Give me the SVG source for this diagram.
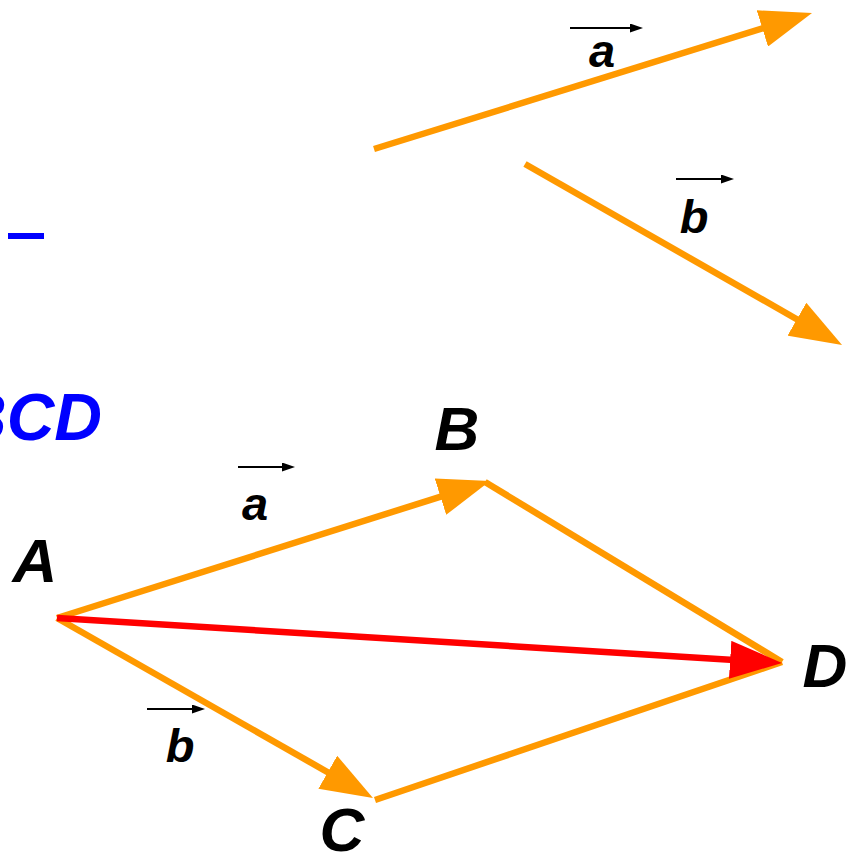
<svg xmlns="http://www.w3.org/2000/svg" width="852" height="855" viewBox="0 0 852 855">
<style>
.vec{stroke:#FF9900;stroke-width:6.5;fill:none}
.red{stroke:#FF0000;stroke-width:6.5;fill:none}
.small{stroke:#000;stroke-width:2;fill:none}
.lbl{font-family:"Liberation Sans",Arial,sans-serif;font-weight:bold;font-style:italic;fill:#000;text-anchor:middle}
.lc{font-size:47px}
.uc{font-size:62px}
.blue{font-family:"Liberation Sans",Arial,sans-serif;font-weight:bold;font-style:italic;fill:#0000FF;font-size:66px;text-anchor:end}
</style>
<defs>
<marker id="ho" markerUnits="userSpaceOnUse" markerWidth="54" markerHeight="38" refX="12" refY="19" orient="auto"><path d="M0,0 L52,19 L0,38 Z" fill="#FF9900"/></marker>
<marker id="hr" markerUnits="userSpaceOnUse" markerWidth="54" markerHeight="38" refX="12" refY="19" orient="auto"><path d="M0,0 L52,19 L0,38 Z" fill="#FF0000"/></marker>
<marker id="hs" markerUnits="userSpaceOnUse" markerWidth="14" markerHeight="10" refX="10" refY="4.5" orient="auto"><path d="M0,0 L13,4.5 L0,9 Z" fill="#000"/></marker>
</defs>
<g id="connectors">
<line class="vec" x1="374" y1="149" x2="773.8" y2="24.9" marker-end="url(#ho)"/>
<line class="vec" x1="525" y1="164" x2="807.3" y2="325.2" marker-end="url(#ho)"/>
<line class="vec" x1="57" y1="618" x2="451.9" y2="493.1" marker-end="url(#ho)"/>
<line class="vec" x1="485" y1="482" x2="782" y2="662"/>
<line class="vec" x1="57" y1="618" x2="338.2" y2="778.2" marker-end="url(#ho)"/>
<line class="vec" x1="375" y1="800" x2="782" y2="662"/>
<line class="red" x1="57" y1="618" x2="742.1" y2="660.5" marker-end="url(#hr)"/>
<line class="small" x1="570" y1="28" x2="640" y2="28" marker-end="url(#hs)"/>
<line class="small" x1="676" y1="179" x2="731" y2="179" marker-end="url(#hs)"/>
<line class="small" x1="238" y1="467" x2="292" y2="467" marker-end="url(#hs)"/>
<line class="small" x1="147" y1="709" x2="202" y2="709" marker-end="url(#hs)"/>
</g>
<g id="label-a-top"><text class="lbl lc" x="602" y="67">a</text></g>
<g id="label-b-top"><text class="lbl lc" x="694" y="233">b</text></g>
<g id="label-a"><text class="lbl lc" x="255" y="520">a</text></g>
<g id="label-b"><text class="lbl lc" x="180" y="762">b</text></g>
<g id="node-A"><text class="lbl uc" x="35" y="582">A</text></g>
<g id="node-B"><text class="lbl uc" x="457" y="450">B</text></g>
<g id="node-C"><text class="lbl uc" x="342" y="851">C</text></g>
<g id="node-D"><text class="lbl uc" x="825" y="687">D</text></g>
<g id="blue-text">
<rect x="8" y="233" width="36" height="6" fill="#0000FF"/>
<text class="blue" x="102" y="440">BCD</text>
</g>
</svg>
